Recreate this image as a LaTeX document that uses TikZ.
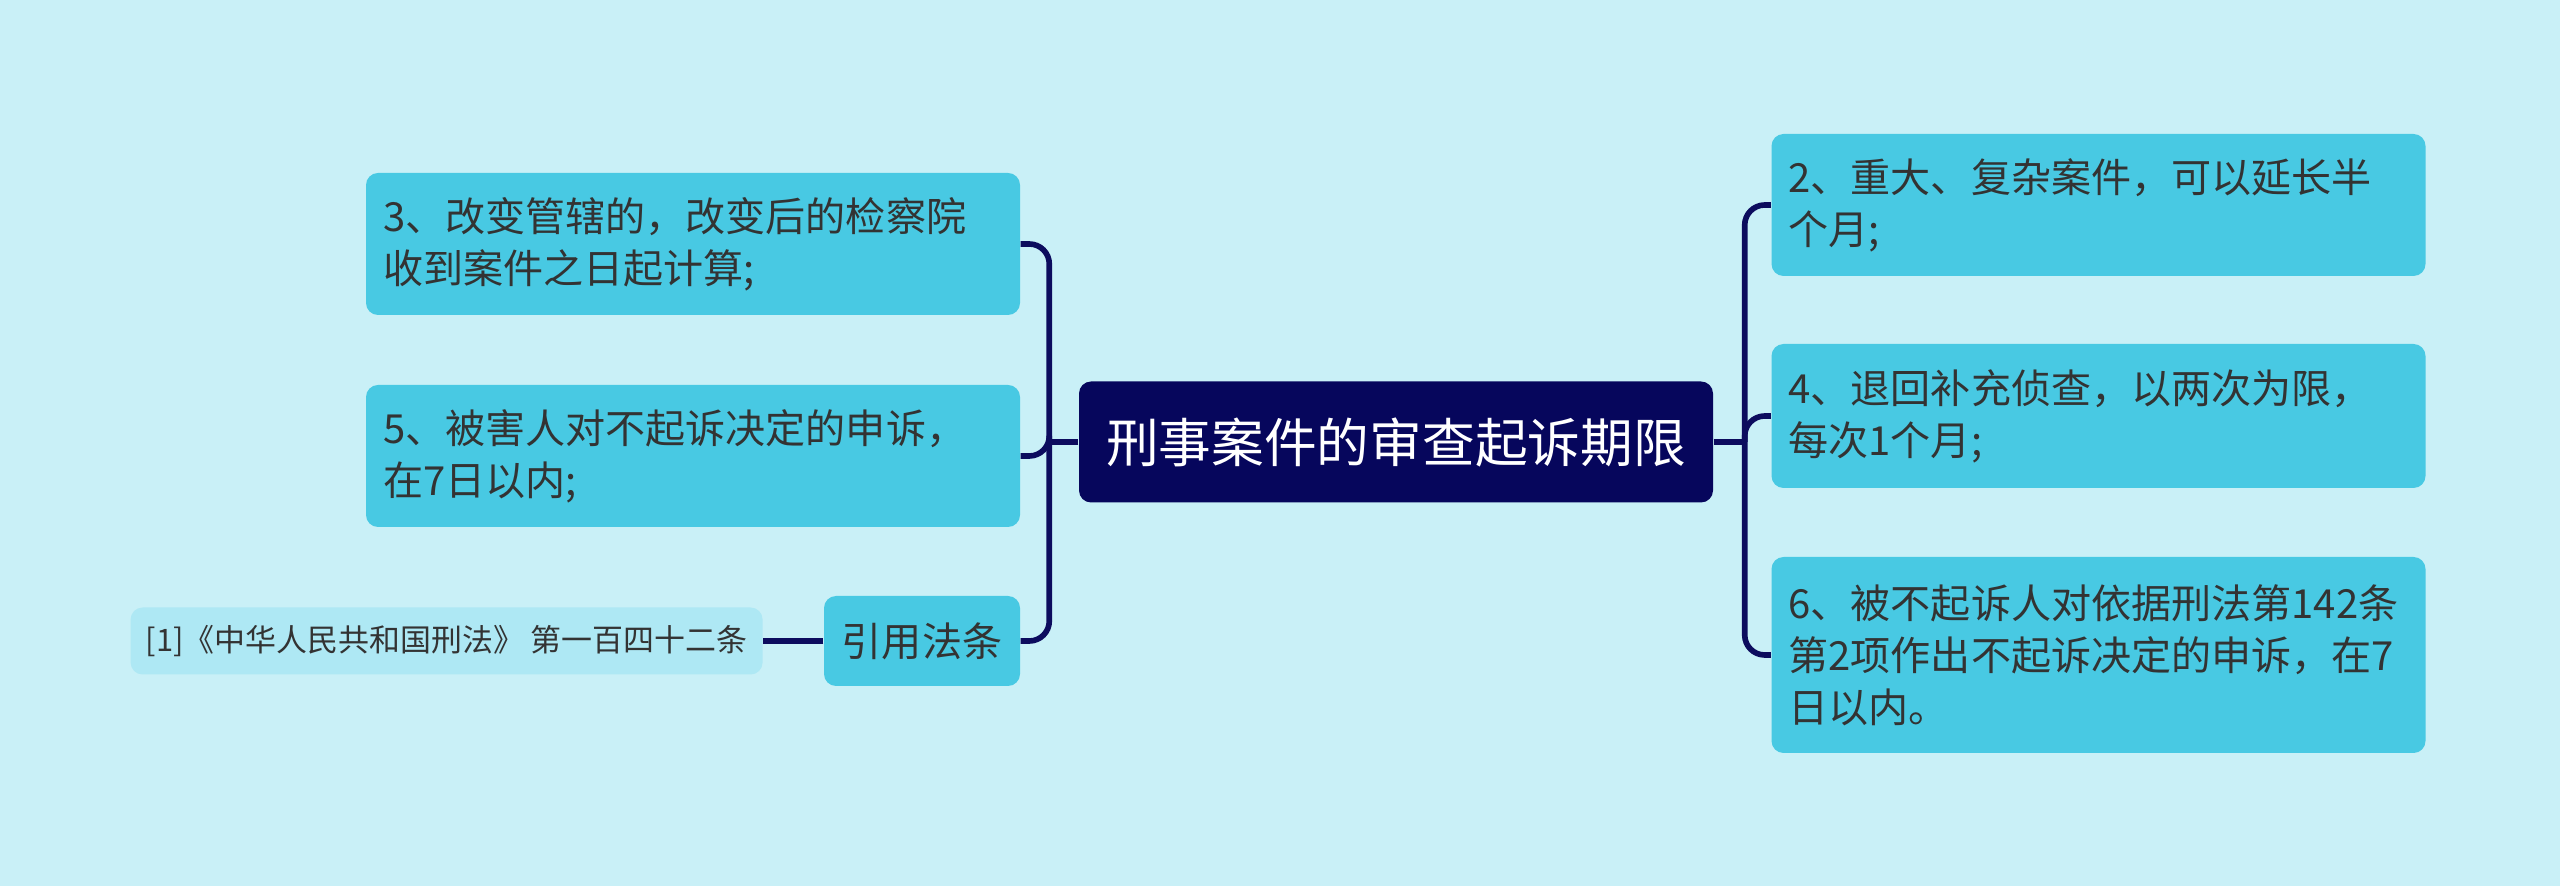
\documentclass[tikz,border=0pt]{standalone}
\usepackage{fontspec}
\setmainfont{Noto Sans CJK SC}
\usepackage{xcolor}
\usepackage{tikz}
\usetikzlibrary{positioning}
\definecolor{fond}{HTML}{C9F0F7}
\definecolor{branche}{HTML}{48C9E3}
\definecolor{racine}{HTML}{06065C}
\definecolor{trait}{HTML}{0C0C5E}
\definecolor{renvoi}{HTML}{AEE8F4}
\definecolor{texte}{HTML}{333333}

\begin{document}
\begin{tikzpicture}[
    boite/.style={fill=branche, rounded corners=0.12cm, text=texte, font=\fontsize{11.4pt}{14.8pt}\selectfont},
    feuille/.style={boite, align=left, text width=6.2cm, inner xsep=0.17cm},
    lien/.style={draw=trait, line width=1.6pt, rounded corners=0.2cm}]
    \fill[fond] (0,0) rectangle (25.6,8.86);
    \useasboundingbox (0,0) rectangle (25.6,8.86);

    \node[fill=racine, rounded corners=0.12cm, text=white, minimum width=6.34cm, minimum height=1.21cm,
      font=\fontsize{15pt}{18pt}\selectfont] (racine) at (13.96,4.44) {刑事案件的审查起诉期限};

    \foreach \nom/\x/\y/\h/\lab in {
      b3/6.93/6.42/1.42/{3、改变管辖的，改变后的检察院\\收到案件之日起计算;},
      b5/6.93/4.30/1.42/{5、被害人对不起诉决定的申诉，\\在7日以内;},
      b2/20.985/6.81/1.42/{2、重大、复杂案件，可以延长半\\个月;},
      b4/20.985/4.70/1.44/{4、退回补充侦查，以两次为限，\\每次1个月;},
      b6/20.985/2.31/1.96/{6、被不起诉人对依据刑法第142条\\第2项作出不起诉决定的申诉，在7\\日以内。}} {
      \node[feuille, minimum height=\h cm] (\nom) at (\x,\y) {\lab};
    }

    \node[boite, minimum width=1.96cm, minimum height=0.90cm] (loi) at (9.22,2.45) {引用法条};
    \node[fill=renvoi, rounded corners=0.12cm, text=texte, minimum width=6.32cm, minimum height=0.67cm,
      font=\fontsize{8.8pt}{10pt}\selectfont, left=0.6cm of loi] (ref) {[1]《中华人民共和国刑法》 第一百四十二条};

    % gauche
    \coordinate (jg) at ([xshift=-0.29cm]racine.west);
    \draw[lien] (racine.west) -- (jg);
    \foreach \n in {b3, b5, loi}
      \draw[lien] (jg) |- (\n.east);
    \draw[lien] (loi.west) -- (ref.east);
    % droite
    \coordinate (jd) at ([xshift=0.31cm]racine.east);
    \draw[lien] (racine.east) -- (jd);
    \foreach \n in {b2, b4, b6}
      \draw[lien] (jd) |- (\n.west);
  \end{tikzpicture}
\end{document}
